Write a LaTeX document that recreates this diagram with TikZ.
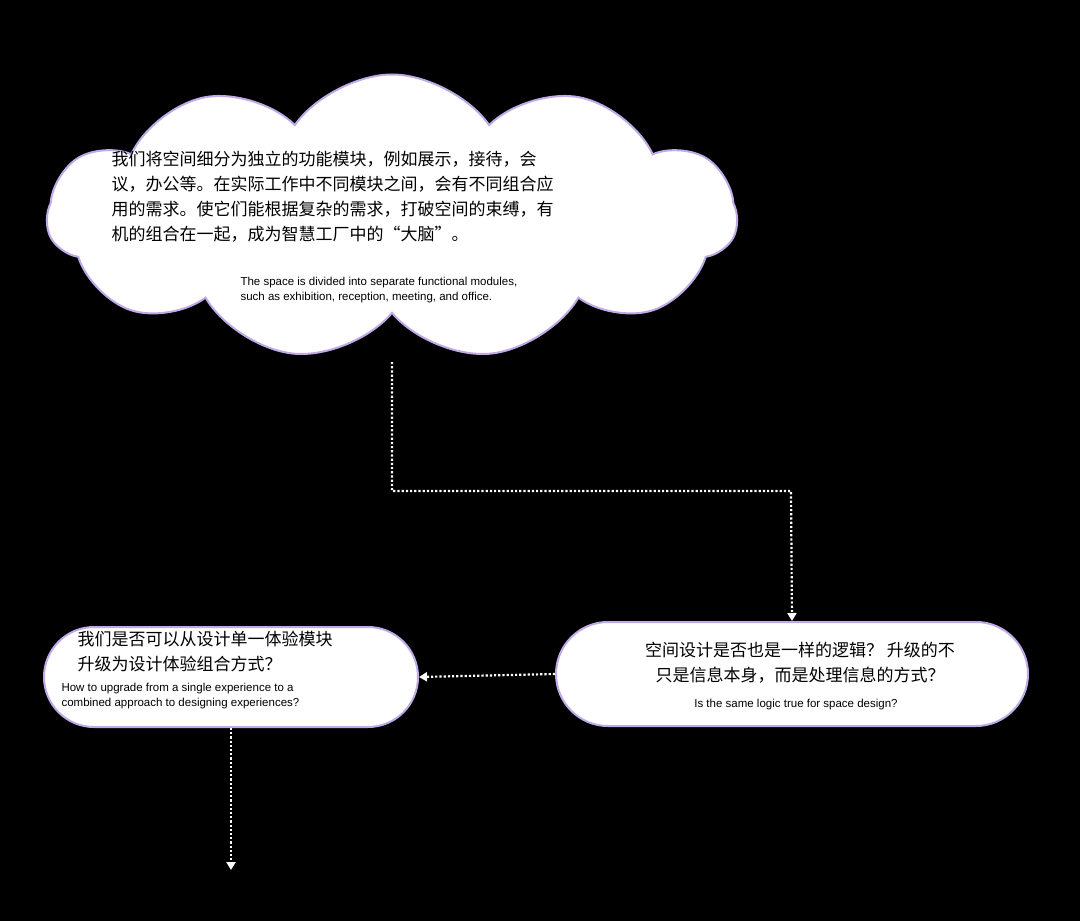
\documentclass[tikz,border=0pt]{standalone}
\usepackage{fontspec}
\setmainfont{Liberation Sans}
\newfontfamily\cjk{Noto Sans CJK SC}
\usetikzlibrary{shapes.symbols,shapes.misc,arrows.meta}
\definecolor{edge}{RGB}{190,170,230}
\tikzset{
  box/.style={draw=edge,line width=2pt,fill=white,rounded rectangle,inner sep=0pt},
  link/.style={draw=white,line width=2.2pt,dotted,-{Triangle[width=9pt,length=8pt]}},
  zh/.style={font=\cjk\fontsize{17}{25}\selectfont,align=left,anchor=north west},
  en/.style={font=\fontsize{11.5}{15}\selectfont,align=left,anchor=north west}
}
\begin{document}
\begin{tikzpicture}[x=1pt,y=-1pt]
\fill[black] (0,0) rectangle (1080,921);
\useasboundingbox (0,0) rectangle (1080,921);
\node[cloud,cloud puffs=11,cloud puff arc=110,aspect=2.4,draw=edge,line width=2pt,fill=white,minimum width=690pt,minimum height=285pt] (cloud) at (392,217) {};
\node[zh] (t1) at (108,148) {我们将空间细分为独立的功能模块，例如展示，接待，会\\议，办公等。在实际工作中不同模块之间，会有不同组合应\\用的需求。使它们能根据复杂的需求，打破空间的束缚，有\\机的组合在一起，成为智慧工厂中的“大脑”。};
\node[en] (e1) at (237,274) {The space is divided into separate functional modules,\\such as exhibition, reception, meeting, and office.};
\node[box,minimum width=472pt,minimum height=104pt] (r) at (792,674) {};
\node[zh,anchor=north,align=center] (rt) at (800,639) {空间设计是否也是一样的逻辑？ 升级的不\\只是信息本身，而是处理信息的方式？};
\node[en,anchor=north] (re) at (796,696) {Is the same logic true for space design?};
\node[box,minimum width=374pt,minimum height=100pt] (l) at (231,677) {};
\node[zh] (lt) at (74,628) {我们是否可以从设计单一体验模块\\升级为设计体验组合方式？};
\node[en,align=left] (le) at (58,680) {How to upgrade from a single experience to a\\combined approach to designing experiences?};
\coordinate (end) at (231,870);
\draw[link] (392,362) |- (791,491) -- (r.north);
\draw[link] (r.west) -- (l.east);
\draw[link] (l.south) -- (end);
\end{tikzpicture}
\end{document}
